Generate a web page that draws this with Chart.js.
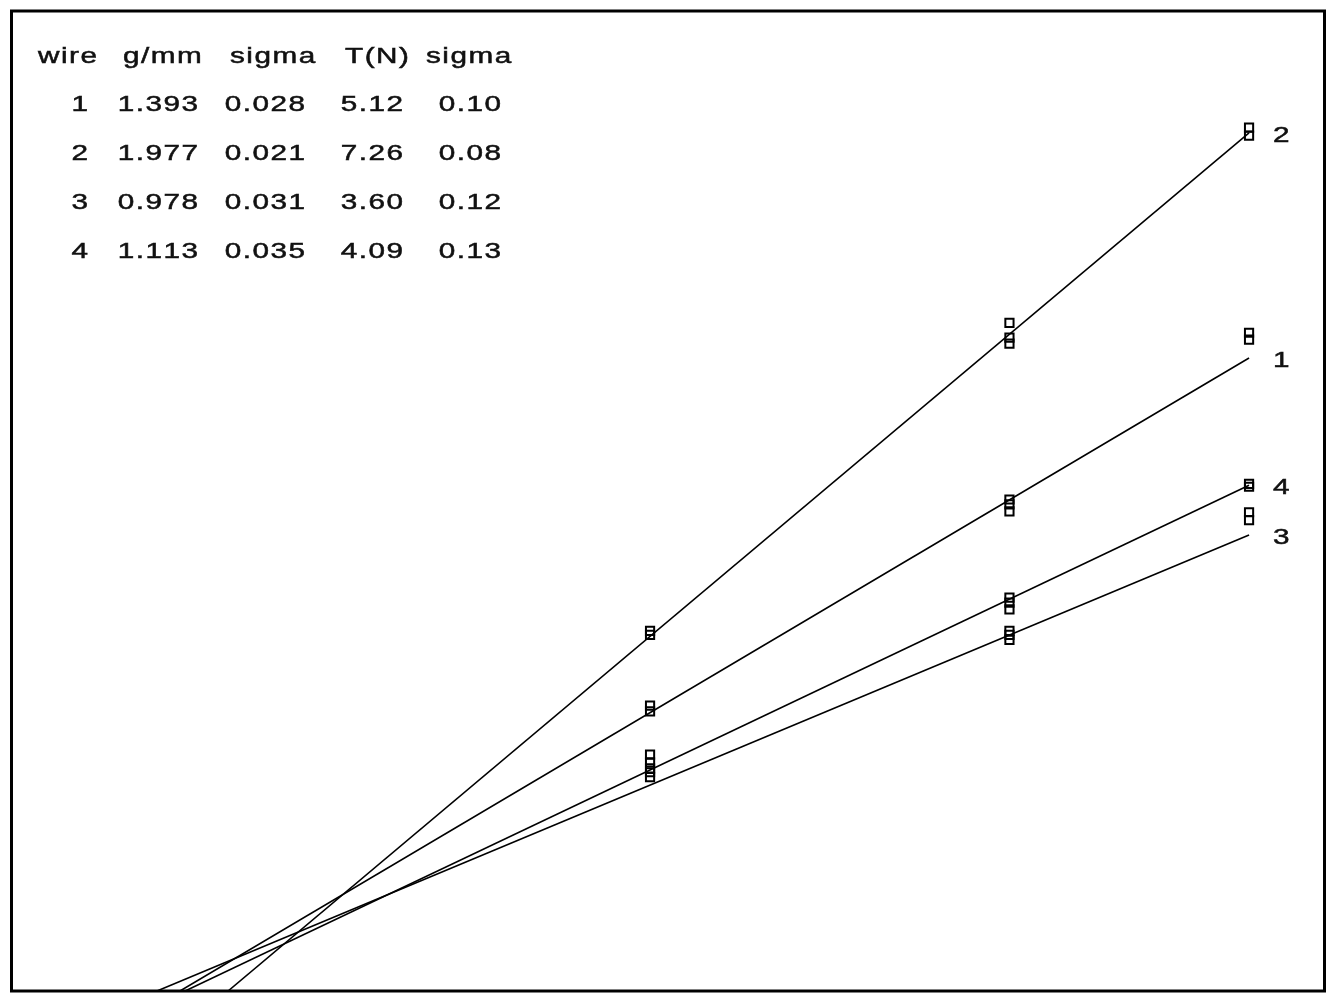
<!DOCTYPE html>
<html>
<head>
<meta charset="utf-8">
<script src="https://cdn.jsdelivr.net/npm/chart.js@4/dist/chart.umd.min.js"></script>
<style>
  html, body { margin: 0; padding: 0; background: #fff; }
  #wrap { width: 1334px; height: 1000px; }
</style>
</head>
<body>
<div id="wrap"><canvas id="wireChart" width="1334" height="1000"></canvas></div>
<script>
// wire table (kept as strings so the printed digits stay as in the picture)
const tableHeader = ["wire", "g/mm", "sigma", "T(N)", "sigma"];
const wireIds = ["1", "2", "3", "4"];
const massPerLength = ["1.393", "1.977", "0.978", "1.113"];
const massSigma = ["0.028", "0.021", "0.031", "0.035"];
const tension = ["5.12", "7.26", "3.60", "4.09"];
const tensionSigma = ["0.10", "0.08", "0.12", "0.13"];

// measurement positions along x
const xValues = [3, 4.5, 5.5];

// measured points per wire, several readings at each x
const wire1Points = [[29.1, 28.5], [50.1, 49.6, 48.9], [67.1, 66.4]];
const wire2Points = [[36.7, 36.3], [68.1, 66.6, 66.0], [88.0, 87.2]];
const wire3Points = [[22.3, 21.8], [36.7, 36.3, 35.8], [48.8, 48.0]];
const wire4Points = [[24.1, 23.3, 22.7], [40.1, 39.6, 38.9], [51.7, 51.4]];

// straight fit lines y = slope * x + intercept
const fitSlope = [14.46, 20.53, 10.20, 11.61];
const fitIntercept = [-15.01, -25.43, -9.61, -12.30];

const allPoints = [wire1Points, wire2Points, wire3Points, wire4Points];
const xMin = 0.337, xMax = 5.817;
const yMin = 0, yMax = 100;
const lineEndX = xValues[xValues.length - 1];

function toXY(groups) {
    const out = [];
    groups.forEach((ys, i) => ys.forEach(y => out.push({ x: xValues[i], y: y })));
    return out;
}

const datasets = [];
wireIds.forEach((id, i) => {
    const m = fitSlope[i], b = fitIntercept[i];
    const startX = (yMin - b) / m;
    datasets.push({
        label: "fit " + id,
        data: [{ x: startX, y: yMin }, { x: lineEndX, y: m * lineEndX + b }],
        showLine: true,
        borderColor: "#000",
        borderWidth: 1.6,
        pointRadius: 0,
        fill: false
    });
    datasets.push({
        label: "wire " + id,
        data: toXY(allPoints[i]),
        showLine: false,
        pointStyle: "rect",
        pointRadius: 5.8,
        pointBorderWidth: 2,
        pointBorderColor: "#000",
        pointBackgroundColor: "rgba(0,0,0,0)"
    });
});

const FONT = '22px "Liberation Sans", Arial, sans-serif';
const STRETCH = 1.35;   // the screen font is wide
const SPACING = 1.5;

function spacedWidth(ctx, text) {
    let w = 0;
    for (const ch of text) w += ctx.measureText(ch).width * STRETCH;
    return w + SPACING * (text.length - 1);
}
function drawSpaced(ctx, text, x, y, align) {
    let cx = align === "right" ? x - spacedWidth(ctx, text) : x;
    for (const ch of text) {
        ctx.save();
        ctx.translate(cx, y);
        ctx.scale(STRETCH, 1);
        ctx.fillText(ch, 0, 0);
        ctx.strokeText(ch, 0, 0);
        ctx.restore();
        cx += ctx.measureText(ch).width * STRETCH + SPACING;
    }
}

const annotations = {
    id: "annotations",
    afterDraw(chart) {
        const ctx = chart.ctx;
        const a = chart.chartArea;
        const xs = chart.scales.x, ys = chart.scales.y;
        ctx.save();
        // frame
        ctx.strokeStyle = "#000";
        ctx.lineWidth = 3;
        ctx.strokeRect(a.left - 0.5, a.top + 1, a.right - a.left, a.bottom - a.top - 1);

        ctx.fillStyle = "#111";
        ctx.strokeStyle = "#111";
        ctx.lineWidth = 0.5;
        ctx.font = FONT;
        ctx.textBaseline = "alphabetic";
        // table
        const headX = [38, 123, 230, 345, 426];
        tableHeader.forEach((t, i) => drawSpaced(ctx, t, headX[i], 63, "left"));
        const colRight = [88, 198, 305, 403, 501];
        const cols = [wireIds, massPerLength, massSigma, tension, tensionSigma];
        wireIds.forEach((_, r) => {
            const y = 111 + r * 49;
            cols.forEach((col, c) => drawSpaced(ctx, col[r], colRight[c], y, "right"));
        });

        // wire labels at the line ends
        ctx.textBaseline = "middle";
        wireIds.forEach((id, i) => {
            const yEnd = fitSlope[i] * lineEndX + fitIntercept[i];
            drawSpaced(ctx, id, xs.getPixelForValue(lineEndX) + 24, ys.getPixelForValue(yEnd) + 3, "left");
        });
        ctx.restore();
    }
};

new Chart(document.getElementById("wireChart"), {
    type: "scatter",
    data: { datasets: datasets },
    options: {
        responsive: false,
        animation: false,
        layout: { padding: { left: 12, top: 10, right: 9, bottom: 9 } },
        plugins: { legend: { display: false }, tooltip: { enabled: false } },
        scales: {
            x: { type: "linear", min: xMin, max: xMax, display: false },
            y: { type: "linear", min: yMin, max: yMax, display: false }
        }
    },
    plugins: [annotations]
});
</script>
</body>
</html>
